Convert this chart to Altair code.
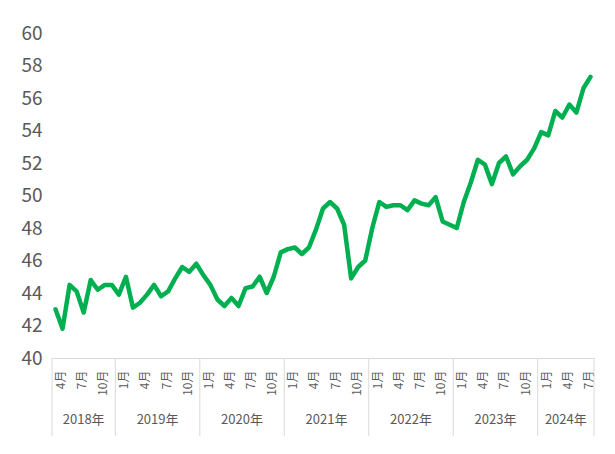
import altair as alt
import pandas as pd

# ---- data (monthly, April 2018 - August 2024) ----
start_year = 2018
start_month = 4
values = [
    43.0, 41.8, 44.5, 44.1, 42.8, 44.8, 44.2, 44.5, 44.5,              # 2018 Apr-Dec
    43.9, 45.0, 43.1, 43.4, 43.9, 44.5, 43.8, 44.1, 44.9, 45.6, 45.3, 45.8,  # 2019
    45.1, 44.5, 43.6, 43.2, 43.7, 43.2, 44.3, 44.4, 45.0, 44.0, 45.0, 46.5,  # 2020
    46.7, 46.8, 46.4, 46.8, 47.9, 49.2, 49.6, 49.2, 48.2, 44.9, 45.6, 46.0,  # 2021
    48.0, 49.6, 49.3, 49.4, 49.4, 49.1, 49.7, 49.5, 49.4, 49.9, 48.4, 48.2,  # 2022
    48.0, 49.6, 50.8, 52.2, 51.9, 50.7, 52.0, 52.4, 51.3, 51.8, 52.2, 52.9,  # 2023
    53.9, 53.7, 55.2, 54.8, 55.6, 55.1, 56.6, 57.3,                    # 2024 Jan-Aug
]
label_months = [1, 4, 7, 10]
y_ticks = [40, 42, 44, 46, 48, 50, 52, 54, 56, 58, 60]

n = len(values)
years = [start_year + (start_month - 1 + i) // 12 for i in range(n)]
months = [(start_month - 1 + i) % 12 + 1 for i in range(n)]
df = pd.DataFrame({"x": list(range(n)), "year": years, "month": months, "value": values})

year_list = sorted(set(years))
first_idx = [years.index(y) for y in year_list]
last_idx = [n - 1 - years[::-1].index(y) for y in year_list]
df_years = pd.DataFrame({
    "x": [(a + b) / 2 for a, b in zip(first_idx, last_idx)],
    "label": [f"{y}年" for y in year_list],
})
bounds = [-0.5] + [a - 0.5 for a in first_idx[1:]] + [n - 0.5]
df_bounds = pd.DataFrame({"x": bounds})

tick_idx = [i for i, m in enumerate(months) if m in label_months]

W, H = 542, 325
FONT = "Noto Sans CJK JP"
GRAY = "#595959"
LINE_GRAY = "#D9D9D9"

x_scale = alt.Scale(domain=[-0.5, n - 0.5], nice=False, zero=False)
x_axis = alt.Axis(
    values=tick_idx,
    labelExpr=f"(({start_month - 1} + datum.value) % 12 + 1) + '月'",
    labelAngle=270, labelAlign="right", labelBaseline="middle",
    labelPadding=12, labelOffset=5, labelFlush=False, labelOverlap=False,
    ticks=False, grid=False, domainColor=LINE_GRAY, domainWidth=1,
    labelFontSize=12, labelColor=GRAY, labelFont=FONT, title=None,
)


def xenc():
    return alt.X("x:Q", scale=x_scale, axis=x_axis)


line = alt.Chart(df).mark_line(
    color="#00B050", strokeWidth=4.5, strokeJoin="round", strokeCap="round"
).encode(
    x=xenc(),
    y=alt.Y(
        "value:Q",
        scale=alt.Scale(domain=[40, 60], nice=False, zero=False),
        axis=alt.Axis(values=y_ticks, grid=False, domain=False, ticks=False,
                      labelFontSize=19, labelColor=GRAY, labelFont=FONT,
                      labelPadding=10, title=None),
    ),
)

seps = alt.Chart(df_bounds).mark_rule(color=LINE_GRAY, strokeWidth=1).encode(
    x=xenc(), y=alt.value(H), y2=alt.value(H + 78)
)

year_text = alt.Chart(df_years).mark_text(
    fontSize=13, color=GRAY, font=FONT, baseline="middle", align="center"
).encode(x=xenc(), y=alt.value(H + 62), text="label:N")

chart = alt.layer(seps, line, year_text).properties(
    width=W, height=H,
    padding={"left": 44, "top": 25, "right": 8, "bottom": 80},
    autosize="none",
    background="white",
).configure_view(stroke=None)

chart.save("out.html", embed_options={"renderer": "svg", "actions": False})
